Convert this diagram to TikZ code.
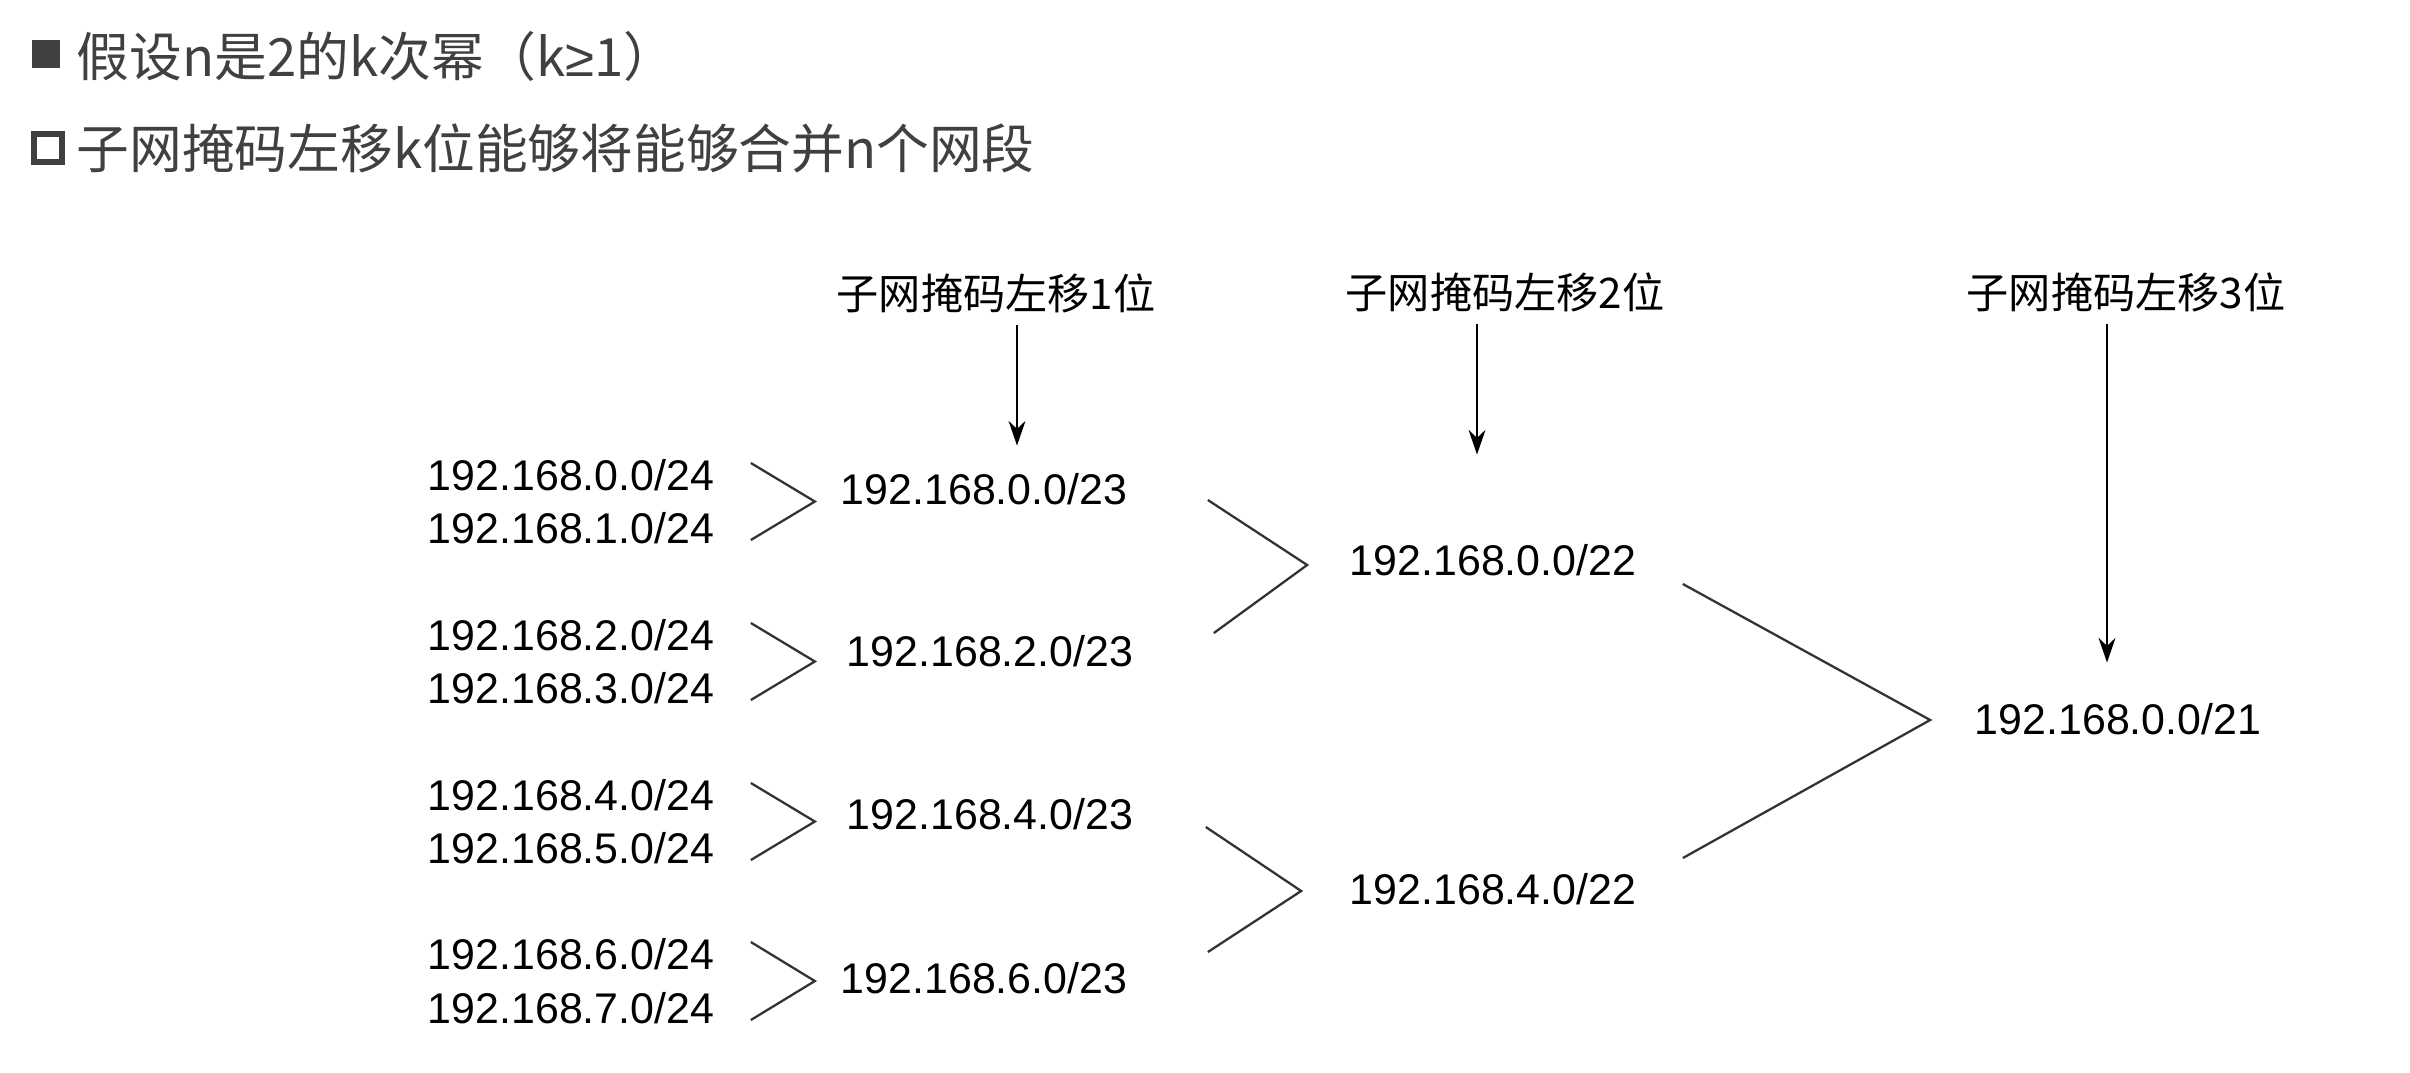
\documentclass[tikz,border=0pt]{standalone}
\usepackage{fontspec}
\setmainfont{Liberation Sans}
\newfontfamily\cjk{Noto Sans CJK SC}
\usetikzlibrary{positioning,arrows.meta,calc}
\definecolor{hgray}{RGB}{64,64,64}
\definecolor{lgray}{RGB}{51,51,51}

\begin{document}
\begin{tikzpicture}[x=0.01cm,y=-0.01cm,
    ip/.style={font=\fontsize{12.2pt}{14pt}\selectfont,inner sep=0pt},
    shiftlbl/.style={font=\cjk\fontsize{12pt}{14pt}\selectfont},
    head/.style={anchor=west,text=hgray,inner sep=0pt,font=\cjk\fontsize{15pt}{18pt}\selectfont},
    chev/.style={lgray,line width=0.65pt},
    down/.style={-{Stealth[length=7pt,width=4.8pt]},line width=0.7pt}]
  \useasboundingbox (0,0) rectangle (2410,1072);
  % heading
  \node[fill=hgray,minimum size=0.28cm,inner sep=0pt] (sq1) at (46,54) {};
  \node[draw=hgray,line width=1.6pt,minimum size=0.28cm,inner sep=0pt] (sq2) at (48,148) {};
  \node[head] (h1) at (76,56) {假设n是2的k次幂（k{\rmfamily ≥}1）};
  \node[head] (h2) at (76,148) {子网掩码左移k位能够将能够合并n个网段};
  % networks
  \foreach \i/\y in {0/475,1/528,2/635,3/688,4/795,5/848,6/954,7/1008}
    \node[ip] (a\i) at (571,\y) {192.168.\i.0/24};
  \foreach \i/\x/\y in {0/984/489,2/990/651,4/990/814,6/984/978}
    \node[ip] (b\i) at (\x,\y) {192.168.\i.0/23};
  \node[ip] (c0) at (1493,560) {192.168.0.0/22};
  \node[ip] (c4) at (1493,889) {192.168.4.0/22};
  \node[ip] (d0) at (2118,719) {192.168.0.0/21};
  % merge marks
  \foreach \i/\j in {0/1,2/3,4/5,6/7}
    \draw[chev] ($(a\i.east)+(36,-12)$) -- ($(a\i.east)!0.5!(a\j.east)+(100,0)$)
      -- ($(a\j.east)+(36,12)$);
  \draw[chev] ($(b0.east)+(80,11)$) -- ($(c0.west)+(-42,5)$) -- ($(b2.east)+(80,-18)$);
  \draw[chev] ($(b4.east)+(72,13)$) -- ($(c4.west)+(-48,2)$) -- ($(b6.east)+(80,-26)$);
  \draw[chev] ($(c0.east)+(46,24)$) -- ($(d0.west)+(-44,1)$) -- ($(c4.east)+(46,-31)$);
  % shift labels
  \node[shiftlbl] (s1) at (996,293) {子网掩码左移1位};
  \node[shiftlbl] (s2) at (1505,292) {子网掩码左移2位};
  \node[shiftlbl] (s3) at (2126,292) {子网掩码左移3位};
  \draw[down] ($(s1.south)+(21,0)$) -- ($(b0.north)+(33,-27)$);
  \draw[down] ($(s2.south)+(-28,0)$) -- ($(c0.north)+(-16,-89)$);
  \draw[down] ($(s3.south)+(-19,0)$) -- ($(d0.north)+(-11,-40)$);
\end{tikzpicture}
\end{document}
